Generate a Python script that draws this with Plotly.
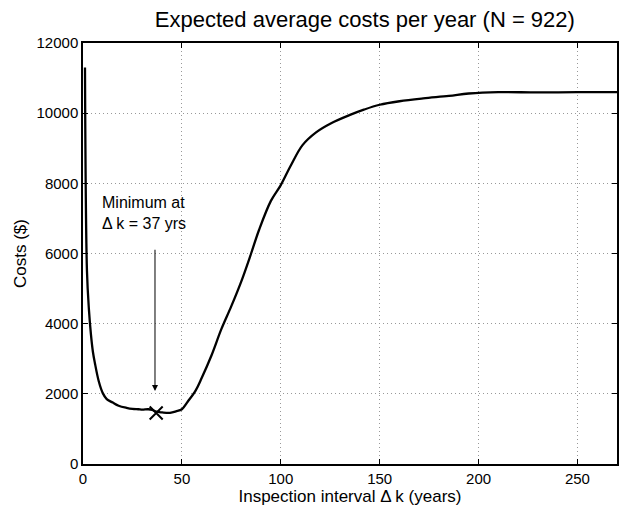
import plotly.graph_objects as go

k = [1, 2, 3, 4, 5, 6, 8, 10, 12, 15, 18, 22, 25, 28, 30, 33, 35, 37, 40, 44, 47, 50, 53, 57,
     60, 65, 70, 75, 80, 85, 89, 95, 100, 105, 111, 118, 125, 135, 142, 150, 160, 172, 185,
     195, 210, 230, 250, 270]
cost = [11300, 5500, 4400, 3700, 3200, 2880, 2350, 2020, 1850, 1750, 1660, 1600, 1570, 1560,
        1550, 1560, 1540, 1490, 1470, 1460, 1500, 1560, 1780, 2100, 2450, 3100, 3850, 4500,
        5200, 6000, 6670, 7500, 7950, 8500, 9090, 9460, 9700, 9950, 10100, 10240, 10340,
        10420, 10490, 10560, 10600, 10590, 10600, 10600]
min_k = [37]
min_cost = [1455]
x_ticks = [0, 50, 100, 150, 200, 250]
y_ticks = [0, 2000, 4000, 6000, 8000, 10000, 12000]

font = "Liberation Sans, Arial, Helvetica, sans-serif"

fig = go.Figure()
fig.add_trace(go.Scatter(x=k, y=cost, mode="lines", line=dict(color="black", width=2.3),
                         line_shape="spline", showlegend=False))
fig.add_trace(go.Scatter(x=min_k, y=min_cost, mode="markers",
                         marker=dict(symbol="x-thin", size=13, color="black",
                                     line=dict(color="black", width=2)),
                         showlegend=False))

axis_common = dict(showline=True, linecolor="black", linewidth=1.5, mirror="ticks",
                   ticks="inside", ticklen=5, tickcolor="black", showgrid=True,
                   gridcolor="#999999", griddash="1px,3px", gridwidth=1, zeroline=False,
                   automargin=False,
                   tickfont=dict(size=15, color="black", family=font))

fig.update_layout(
    width=628, height=509,
    margin=dict(l=83, r=11, t=43, b=45),
    paper_bgcolor="white", plot_bgcolor="white",
    font=dict(family=font, color="black"),
    title=dict(text="Expected average costs per year (N = 922)", x=0.581, xanchor="center",
               xref="container", y=0.962, yanchor="middle",
               font=dict(size=22, color="black", family=font)),
    xaxis=dict(range=[0, 270], tickvals=x_ticks, ticktext=[str(v) for v in x_ticks],
               title=dict(text="Inspection interval Δ k (years)", standoff=0,
                          font=dict(size=17, color="black", family=font)),
               **axis_common),
    yaxis=dict(range=[0, 12000], tickvals=y_ticks, ticktext=[str(v) for v in y_ticks],
               title=dict(text="Costs ($)", standoff=6,
                          font=dict(size=17, color="black", family=font)),
               **axis_common),
)

fig.add_annotation(x=8.6, y=7150, xref="x", yref="y", text="Minimum at<br>Δ k = 37 yrs",
                   showarrow=False, xanchor="left", yanchor="middle", align="left",
                   font=dict(size=16, color="black", family=font))
fig.add_annotation(x=36.4, y=2080, ax=36.4, ay=6150, xref="x", yref="y", axref="x", ayref="y",
                   text="", showarrow=True, arrowhead=2, arrowsize=1.2, arrowwidth=1,
                   arrowcolor="black")

fig.write_html("out.html", config={"displayModeBar": False},
               post_script="document.body.style.margin='0';document.body.style.overflow='hidden';")
